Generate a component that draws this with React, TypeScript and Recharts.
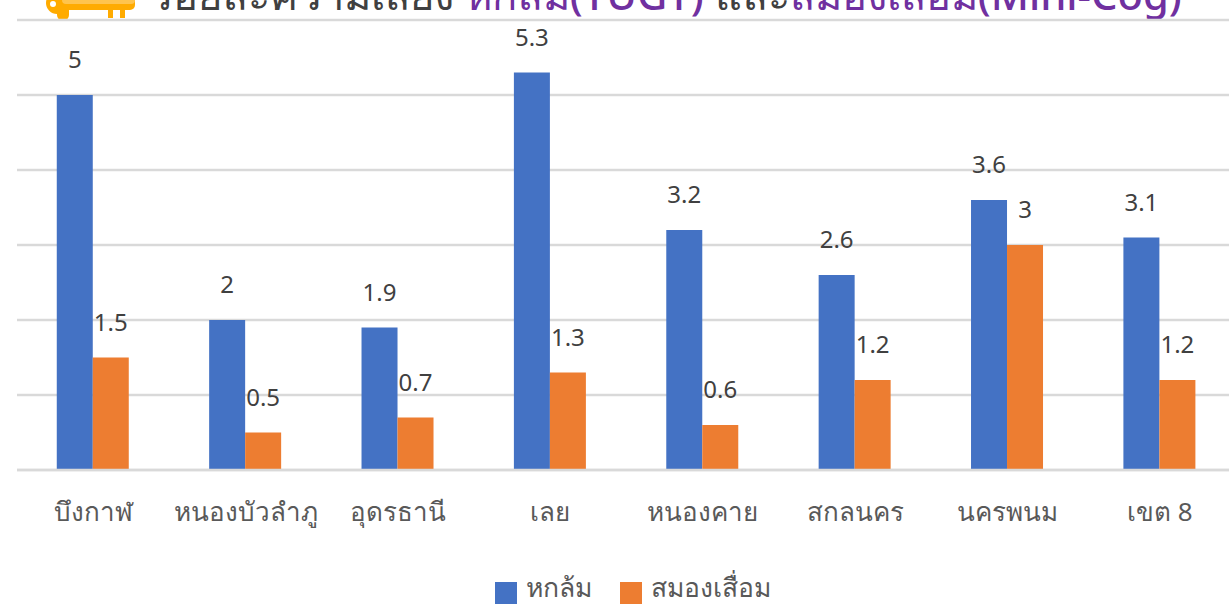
import React from "react";
import { BarChart, Bar, XAxis, YAxis, CartesianGrid, Legend, LabelList } from "recharts";

const categories = ["บึงกาฬ", "หนองบัวลำภู", "อุดรธานี", "เลย", "หนองคาย", "สกลนคร", "นครพนม", "เขต 8"];
const fallValues = [5, 2, 1.9, 5.3, 3.2, 2.6, 3.6, 3.1];
const dementiaValues = [1.5, 0.5, 0.7, 1.3, 0.6, 1.2, 3, 1.2];
const yTicks = [0, 1, 2, 3, 4, 5, 6];
const seriesNames = ["หกล้ม", "สมองเสื่อม"];
const titleParts = ["ร้อยละความเสี่ยง ", "หกล้ม(TUGT)", " และ", "สมองเสื่อม(Mini-Cog)"];

const rows = categories.map((name, i) => ({ name, fall: fallValues[i], dementia: dementiaValues[i] }));
const FONT = "'Noto Sans', 'Noto Sans CJK SC', sans-serif";
const GREY = "#595959";

export default function App() {
  return (
    <div style={{ position: "absolute", left: 0, top: 0, width: 1229, height: 606, overflow: "hidden", background: "#fff" }}>
      <svg width={1229} height={30} style={{ position: "absolute", left: 0, top: 0 }}>
        <g fill="#FFAB00">
          <circle cx={57} cy={3} r={11} />
          <rect x={56} y={-4} width={79} height={14} rx={5} />
          <rect x={57} y={0} width={12} height={15} />
          <circle cx={63} cy={15} r={6} />
          <rect x={108} y={9} width={5} height={9} />
          <rect x={120} y={9} width={5} height={9} />
        </g>
        <rect x={62} y={-4} width={73} height={8} rx={4} fill="#FFC44D" />
        <circle cx={53} cy={4} r={3} fill="#fff" />
        <text x={151} y={10} fontFamily={FONT} fontSize={41.7} fontWeight={500} fill="#404040">
          <tspan>{titleParts[0]}</tspan>
          <tspan fill="#7030A0">{titleParts[1]}</tspan>
          <tspan>{titleParts[2]}</tspan>
          <tspan fill="#7030A0">{titleParts[3]}</tspan>
        </text>
      </svg>
      <BarChart
        width={1236}
        height={606}
        data={rows}
        margin={{ top: 20, right: 0, bottom: 64, left: 17 }}
        barCategoryGap="26.1%"
        barGap={0}
        style={{ position: "absolute", left: 0, top: 0 }}
      >
        <CartesianGrid vertical={false} stroke="#D9D9D9" strokeWidth={2.5} />
        <XAxis
          dataKey="name"
          interval={0}
          axisLine={{ stroke: "#D9D9D9", strokeWidth: 2.5 }}
          tickLine={false}
          tickMargin={27}
          tick={{ fontFamily: FONT, fontSize: 26, fill: GREY }}
        />
        <YAxis hide domain={[0, 6]} ticks={yTicks} />
        <Legend
          iconType="square"
          iconSize={22}
          layout="horizontal"
          align="left"
          itemSorter={null}
          wrapperStyle={{ position: "absolute", left: 495, top: 570, width: 400, bottom: "auto", fontFamily: FONT, fontSize: 26.5 }}
          formatter={(v: string) => (
            <span style={{ color: GREY, marginLeft: 5, marginRight: 18, position: "relative", top: -3 }}>{v}</span>
          )}
        />
        <Bar dataKey="fall" name={seriesNames[0]} fill="#4472C4" isAnimationActive={false}>
          <LabelList dataKey="fall" position="top" offset={27} style={{ fontFamily: FONT, fontSize: 24, fill: "#404040" }} />
        </Bar>
        <Bar dataKey="dementia" name={seriesNames[1]} fill="#ED7D31" isAnimationActive={false}>
          <LabelList dataKey="dementia" position="top" offset={27} style={{ fontFamily: FONT, fontSize: 24, fill: "#404040" }} />
        </Bar>
      </BarChart>
    </div>
  );
}
